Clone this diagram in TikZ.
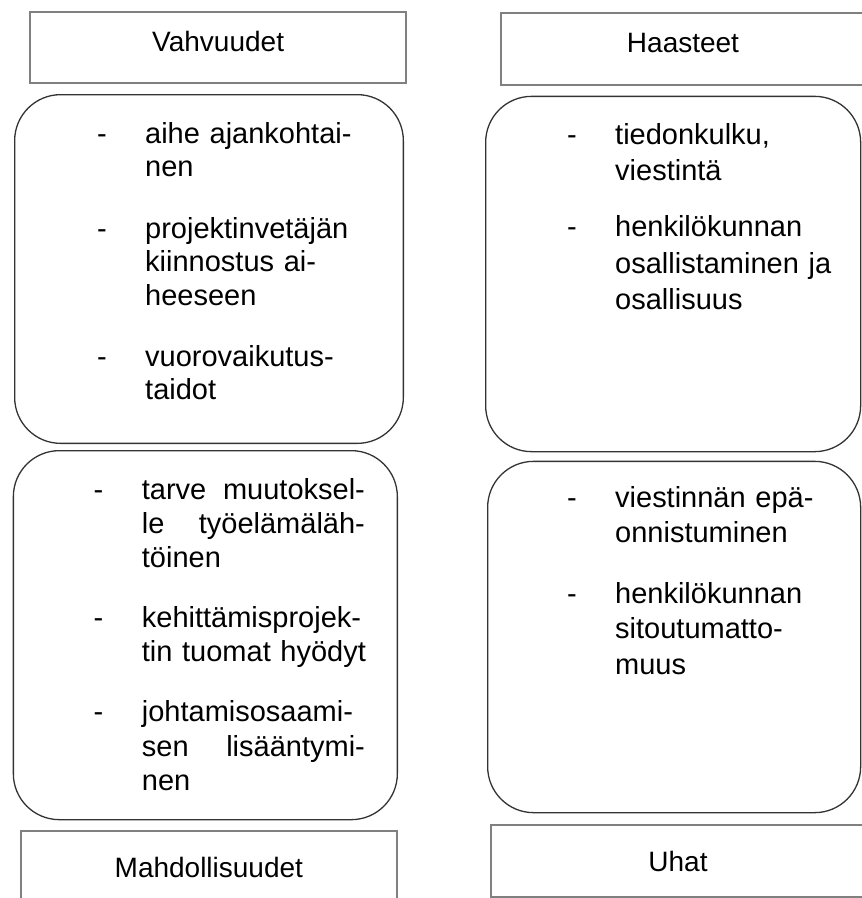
\documentclass[tikz,border=0pt]{standalone}
\usepackage{fontspec}
\setmainfont{Liberation Sans}

% hanging dash in front of a list item
\newcommand{\dashitem}{\llap{-\hspace{38.5pt}}}

\begin{document}
\begin{tikzpicture}[
    x=1pt, y=-1pt,
    headbox/.style={
        rectangle,
        draw=black!50,
        line width=2pt,
        inner sep=0pt,
        anchor=north west,
        font=\fontsize{28}{33}\selectfont
    },
    listbox/.style={
        rectangle,
        rounded corners=46pt,
        draw=black!80,
        line width=1.3pt,
        inner sep=0pt,
        anchor=north west
    },
    item/.style 2 args={
        anchor=base west,
        inner sep=0pt,
        align=left,
        text width=#1,
        font=\fontsize{29}{#2}\selectfont
    }
]
\useasboundingbox (0,0) rectangle (862,898);

% Headers
\node[headbox, text depth=12pt, minimum width=375.7pt, minimum height=71.3pt] (hdrS) at (29.3,11) {Vahvuudet};
\node[headbox, text depth=12pt, minimum width=364pt, minimum height=71.7pt] (hdrH) at (500,12.3) {Haasteet};
\node[headbox, minimum width=375.7pt, minimum height=72pt] (hdrM) at (20,830) {Mahdollisuudet};
\node[headbox, minimum width=374pt, minimum height=72pt] (hdrU) at (490,824) {Uhat};

% Rounded boxes
\node[listbox, minimum width=388.7pt, minimum height=348.7pt] (boxS) at (14,94) {};
\node[listbox, minimum width=375pt, minimum height=355.3pt] (boxH) at (485,95.7) {};
\node[listbox, minimum width=384pt, minimum height=369pt] (boxM) at (12.7,450) {};
\node[listbox, minimum width=373pt, minimum height=351.3pt] (boxU) at (487,460.7) {};

% Vahvuudet
\node[item={230pt}{33.5pt}] (s1) at (145,143.3) {\dashitem aihe ajankohtai-\\nen};
\node[item={230pt}{33.5pt}] (s2) at (145,238.3) {\dashitem projektinvetäjän\\kiinnostus ai-\\heeseen};
\node[item={230pt}{33.5pt}] (s3) at (145,366) {\dashitem vuorovaikutus-\\taidot};

% Haasteet
\node[item={240pt}{36.5pt}] (h1) at (615,144) {\dashitem tiedonkulku,\\viestintä};
\node[item={240pt}{36.5pt}] (h2) at (615,236.7) {\dashitem henkilökunnan\\osallistaminen ja\\osallisuus};

% Mahdollisuudet
\node[item={223pt}{34.3pt}] (m1) at (141.7,499.3) {\dashitem tarve\hfill muutoksel-\\le\hfill työelämäläh-\\töinen};
\node[item={223pt}{34.3pt}] (m2) at (141.7,627.3) {\dashitem kehittämisprojek-\\\mbox{tin tuomat hyödyt}};
\node[item={223pt}{34.3pt}] (m3) at (141.7,721.7) {\dashitem johtamisosaami-\\sen\hfill lisääntymi-\\nen};

% Uhat
\node[item={240pt}{35.5pt}] (u1) at (615,507.3) {\dashitem viestinnän epä-\\onnistuminen};
\node[item={240pt}{35.5pt}] (u2) at (615,603.3) {\dashitem henkilökunnan\\sitoutumatto-\\muus};

\end{tikzpicture}
\end{document}
